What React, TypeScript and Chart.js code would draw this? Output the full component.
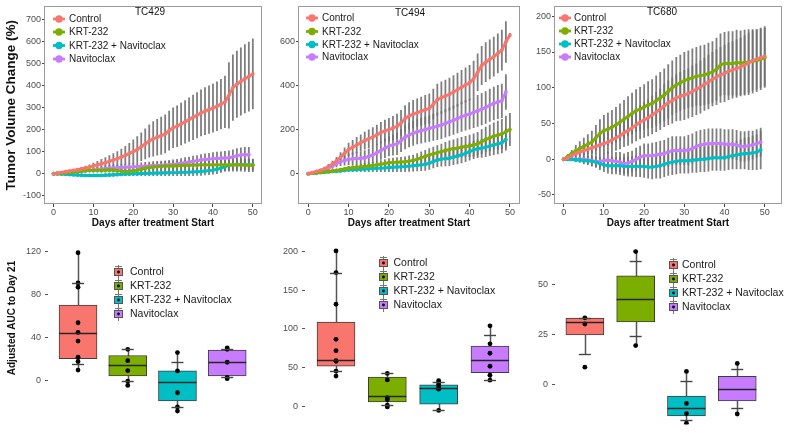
import React, { useEffect, useRef } from 'react';
import { Chart, registerables } from 'chart.js';

Chart.register(...registerables);

const FONT = "'Liberation Sans', Arial, Helvetica, sans-serif";
Chart.defaults.font.family = FONT;
Chart.defaults.color = '#4d4d4d';

// ---------- shared ----------
const groups = ['Control', 'KRT-232', 'KRT-232 + Navitoclax', 'Navitoclax'];
const groupColors = ['#F8766D', '#7CAE00', '#00BFC4', '#C77CFF'];
const days = [0, 1, 2, 3, 4, 5, 6, 7, 8, 9, 10, 11, 12, 13, 14, 15, 16, 17, 18, 19, 20, 21, 22, 23, 24, 25, 26, 27, 28, 29, 30, 31, 32, 33, 34, 35, 36, 37, 38, 39, 40, 41, 42, 43, 44, 45, 46, 47, 48, 49, 50];
const dayTicks = [0, 10, 20, 30, 40, 50];

// ---------- TC429 (tumor volume change %) ----------
const tc429Control = [0, 3, 6, 9, 12, 15, 18, 22, 26, 30, 35, 40, 45, 50, 56, 62, 68, 75, 83, 92, 100, 110, 122, 135, 148, 158, 165, 172, 180, 195, 208, 215, 225, 235, 245, 255, 265, 275, 283, 290, 297, 305, 315, 325, 355, 390, 405, 418, 430, 440, 452];
const tc429ControlSd = [0, 1, 2, 3, 4, 5, 6, 8, 10, 12, 15, 18, 21, 24, 27, 30, 34, 38, 42, 47, 55, 60, 65, 70, 75, 80, 83, 86, 88, 90, 92, 94, 96, 98, 100, 102, 104, 106, 108, 109, 110, 112, 114, 118, 150, 150, 152, 154, 156, 158, 160];
const tc429Krt = [0, 1, 2, 4, 6, 8, 10, 12, 14, 15, 15, 15, 15, 16, 17, 16, 14, 12, 10, 11, 13, 16, 20, 25, 28, 30, 32, 33, 34, 35, 35, 36, 37, 38, 38, 39, 39, 40, 40, 40, 40, 40, 40, 40, 40, 40, 40, 40, 39, 38, 38];
const tc429KrtSd = [0, 1, 2, 3, 4, 5, 6, 7, 8, 9, 10, 10, 11, 11, 12, 12, 13, 13, 14, 14, 15, 15, 16, 17, 18, 19, 20, 21, 22, 22, 23, 23, 24, 24, 25, 25, 26, 26, 27, 27, 28, 28, 29, 29, 30, 30, 30, 30, 30, 30, 30];
const tc429Combo = [0, -1, -2, -3, -4, -5, -6, -7, -8, -8, -8, -8, -8, -7, -6, -5, -4, -3, -2, -1, 0, 0, 1, 1, 2, 2, 3, 3, 4, 4, 5, 5, 6, 6, 7, 8, 9, 10, 12, 14, 16, 20, 25, 32, 38, 40, 40, 41, 40, 40, 40];
const tc429ComboSd = [0, 1, 1, 2, 2, 3, 3, 4, 4, 5, 5, 6, 6, 7, 7, 8, 8, 9, 9, 10, 10, 11, 11, 12, 12, 13, 13, 14, 14, 15, 15, 16, 16, 17, 17, 18, 18, 19, 19, 20, 20, 21, 21, 22, 22, 23, 23, 24, 24, 25, 25];
const tc429Nav = [0, 1, 2, 3, 5, 7, 9, 11, 13, 15, 17, 19, 21, 23, 25, 26, 27, 28, 29, 30, 31, 32, 33, 34, 35, 36, 37, 38, 39, 40, 42, 44, 47, 50, 53, 56, 59, 62, 64, 66, 68, 69, 70, 71, 72, 76, 81, 85, 86, 86, null];
const tc429NavSd = [0, 1, 2, 3, 4, 5, 6, 7, 8, 9, 10, 11, 12, 13, 14, 15, 15, 16, 16, 17, 17, 18, 18, 19, 19, 20, 20, 21, 21, 22, 22, 23, 23, 24, 24, 25, 25, 26, 27, 28, 29, 30, 31, 32, 33, 33, 34, 34, 35, 35, null];
const tc429YTicks = [-100, 0, 100, 200, 300, 400, 500, 600, 700];

// ---------- TC494 ----------
const tc494Control = [0, 5, 10, 15, 22, 32, 44, 58, 75, 92, 110, 120, 130, 140, 150, 158, 166, 176, 186, 194, 200, 207, 215, 230, 250, 262, 270, 276, 283, 290, 295, 315, 335, 345, 352, 360, 370, 380, 392, 402, 412, 430, 460, 490, 505, 518, 530, 545, 560, 597, 628];
const tc494ControlSd = [0, 3, 5, 7, 9, 12, 15, 18, 22, 26, 30, 33, 36, 38, 40, 42, 44, 46, 48, 50, 52, 54, 56, 58, 60, 62, 64, 65, 66, 67, 68, 70, 72, 73, 74, 75, 76, 77, 78, 79, 80, 82, 85, 88, 90, 90, 90, 90, 92, 94, 10];
const tc494Krt = [0, 2, 4, 6, 8, 10, 12, 15, 18, 21, 25, 27, 29, 31, 33, 35, 37, 40, 43, 46, 50, 51, 52, 53, 54, 57, 60, 65, 72, 78, 85, 90, 95, 100, 105, 110, 113, 116, 120, 123, 126, 130, 135, 145, 155, 162, 170, 175, 180, 190, 200];
const tc494KrtSd = [0, 1, 2, 3, 4, 5, 6, 7, 8, 9, 10, 11, 12, 13, 14, 15, 16, 17, 18, 19, 20, 21, 22, 23, 24, 25, 26, 27, 28, 29, 30, 32, 34, 36, 38, 40, 42, 44, 46, 48, 50, 52, 54, 56, 58, 60, 62, 65, 68, 72, 75];
const tc494Combo = [0, 2, 3, 5, 6, 8, 10, 11, 13, 15, 17, 18, 19, 20, 21, 22, 23, 24, 25, 26, 28, 29, 30, 31, 32, 34, 36, 38, 40, 42, 48, 55, 62, 66, 68, 70, 75, 80, 85, 92, 100, 108, 113, 115, 120, 125, 130, 135, 140, 155, null];
const tc494ComboSd = [0, 1, 2, 3, 4, 5, 6, 7, 8, 9, 10, 11, 12, 13, 14, 15, 16, 17, 18, 19, 20, 21, 22, 23, 24, 25, 26, 27, 28, 29, 30, 31, 32, 33, 34, 35, 36, 37, 38, 39, 40, 41, 42, 43, 44, 45, 46, 47, 48, 50, null];
const tc494Nav = [0, 4, 8, 12, 16, 25, 35, 45, 55, 60, 65, 67, 69, 70, 72, 78, 85, 95, 105, 115, 125, 130, 135, 150, 165, 175, 183, 190, 195, 200, 205, 210, 215, 220, 228, 235, 242, 250, 258, 265, 270, 278, 285, 292, 300, 310, 318, 325, 330, 370, null];
const tc494NavSd = [0, 2, 4, 6, 8, 10, 13, 16, 20, 23, 26, 28, 30, 32, 34, 36, 38, 40, 42, 44, 46, 48, 50, 52, 54, 55, 56, 57, 58, 59, 60, 61, 62, 63, 64, 65, 66, 67, 68, 69, 70, 71, 72, 73, 74, 75, 76, 77, 78, 80, null];
const tc494YTicks = [0, 200, 400, 600];

// ---------- TC680 ----------
const tc680Control = [0, 2, 5, 8, 10, 12, 14, 16, 18, 20, 22, 24, 27, 30, 33, 37, 40, 44, 48, 52, 55, 58, 62, 66, 70, 75, 79, 82, 86, 88, 90, 92, 95, 98, 101, 105, 108, 112, 115, 118, 120, 123, 125, 127, 129, 132, 135, 138, 140, 142, 144];
const tc680ControlSd = [0, 2, 4, 6, 8, 10, 11, 12, 13, 14, 15, 16, 17, 18, 19, 20, 21, 22, 23, 24, 25, 26, 27, 28, 29, 30, 31, 32, 33, 34, 35, 35, 36, 36, 37, 37, 38, 38, 39, 39, 40, 40, 40, 41, 41, 41, 42, 42, 42, 42, 42];
const tc680Krt = [0, 4, 8, 12, 15, 18, 21, 24, 30, 36, 40, 42, 45, 48, 52, 56, 60, 64, 68, 70, 73, 76, 78, 82, 86, 90, 95, 100, 104, 107, 110, 112, 114, 116, 117, 118, 120, 122, 126, 132, 134, 134, 134, 135, 135, 135, 136, 137, 138, 140, 142];
const tc680KrtSd = [0, 3, 5, 8, 10, 12, 14, 16, 18, 20, 22, 23, 24, 25, 26, 27, 28, 29, 30, 31, 32, 33, 34, 35, 36, 37, 38, 38, 39, 39, 40, 40, 41, 41, 42, 42, 43, 43, 44, 44, 44, 45, 45, 46, 45, 46, 46, 45, 44, 43, 42];
const tc680Combo = [0, 0, 0, -1, -1, -2, -2, -3, -4, -6, -8, -9, -9, -9, -9, -10, -10, -10, -10, -10, -10, -11, -11, -10, -9, -7, -5, -4, -3, -2, -2, -2, -1, -1, 0, 0, 1, 2, 2, 2, 2, 4, 5, 6, 7, 8, 8, 9, 10, 13, null];
const tc680ComboSd = [0, 1, 2, 3, 4, 5, 6, 7, 8, 9, 10, 11, 12, 12, 13, 13, 14, 14, 15, 15, 16, 16, 17, 17, 18, 18, 18, 18, 18, 18, 18, 18, 18, 18, 18, 18, 18, 18, 18, 18, 18, 19, 19, 20, 21, 22, 23, 24, 25, 27, null];
const tc680Nav = [0, 0, 0, 0, 0, 0, -1, -2, -3, -3, -2, -1, -2, -3, -4, -6, -5, -3, 0, 3, 5, 5, 5, 6, 7, 8, 10, 12, 12, 12, 12, 13, 15, 18, 20, 21, 22, 22, 22, 22, 21, 21, 21, 20, 18, 18, 19, 20, 22, 24, null];
const tc680NavSd = [0, 1, 2, 3, 4, 5, 6, 7, 8, 9, 10, 11, 12, 13, 14, 14, 15, 15, 16, 16, 17, 17, 18, 18, 19, 19, 20, 20, 20, 20, 20, 21, 21, 21, 21, 21, 21, 21, 21, 21, 21, 21, 21, 21, 21, 21, 21, 20, 20, 20, null];
const tc680YTicks = [-50, 0, 50, 100, 150, 200];

// ---------- Adjusted AUC to Day 21 (box plots) ----------
const auc429Q1 = [20.6, 4.5, -18.5, 4.5];
const auc429Median = [44.8, 15.2, -1.2, 17.3];
const auc429Q3 = [70.4, 23.6, 9.3, 28.7];
const auc429Low = [10, -4.2, -28, 2.1];
const auc429High = [119, 29.3, 26.3, 30.7];
const auc429Caps = [[91, 15.8], [29.3, -0.3], [17.6, -24.2], [30, 3.5]];
const auc429Points = [[119, 91, 87, 54, 45, 37, 22, 18, 10], [29.3, 18.8, 9.6, -0.3, -4.2], [26.3, 9.3, -11, -24.2, -28], [30.7, 29.3, 17.3, 3.3, 2.1]];
const auc429YTicks = [0, 40, 80, 120];

const auc494Q1 = [51.7, 5.5, 2.5, 43.3];
const auc494Median = [60, 12.6, 23, 60];
const auc494Q3 = [109, 37.8, 27.7, 77.7];
const auc494Low = [39, -1, -5.5, 33.6];
const auc494High = [201, 42.4, 33, 104];
const auc494Caps = [[173, 45.4], [42.4, 1.3], [31, -5.5], [92.4, 33.6]];
const auc494Points = [[201, 173, 132, 86.6, 71.8, 59, 58, 45.4, 39], [42.4, 34, 11, 8.4, 1.3, -1], [33, 31, 28, 25, 22, -5.5], [104, 80.7, 68.5, 51.7, 40, 33.6]];
const auc494YTicks = [0, 50, 100, 150, 200];

const auc680Q1 = [25, 31.5, -15.6, -8.1];
const auc680Median = [31.6, 43, -11.7, -1.9];
const auc680Q3 = [33.4, 54.5, -5.7, 4.2];
const auc680Low = [15.3, 19.6, -19.2, -14.6];
const auc680High = [33.5, 66.6, 6.7, 10.7];
const auc680Caps = [[33.5, 15.3], [61.9, 24.5], [1.8, -17.5], [8.1, -11.7]];
const auc680Points = [[33.5, 30.4, 8.8], [66.6, 19.6], [6.7, -9.3, -14.4, -19.2], [10.7, -14.6]];
const auc680YTicks = [0, 25, 50];

// ---------- plugins ----------
const errorBarsPlugin: any = {
  id: 'errorBars',
  beforeDatasetsDraw(chart: any) {
    const { ctx, chartArea: a, scales } = chart;
    ctx.save();
    ctx.beginPath();
    ctx.rect(a.left, a.top, a.right - a.left, a.bottom - a.top);
    ctx.clip();
    ctx.strokeStyle = 'rgba(112,112,112,0.9)';
    ctx.lineWidth = 1.8;
    chart.data.datasets.forEach((ds: any) => {
      const sd = ds.sd;
      if (!sd) return;
      ds.data.forEach((p: any, i: number) => {
        if (p.y == null || sd[i] == null || sd[i] === 0) return;
        const x = scales.x.getPixelForValue(p.x);
        ctx.beginPath();
        ctx.moveTo(x, scales.y.getPixelForValue(p.y - sd[i]));
        ctx.lineTo(x, scales.y.getPixelForValue(p.y + sd[i]));
        ctx.stroke();
      });
    });
    ctx.restore();
  },
};

const framePlugin: any = {
  id: 'frame',
  afterDraw(chart: any) {
    const { ctx, chartArea: a } = chart;
    ctx.save();
    ctx.strokeStyle = '#9a9a9a';
    ctx.lineWidth = 1;
    ctx.strokeRect(Math.round(a.left) + 0.5, Math.round(a.top) + 0.5, Math.round(a.right - a.left) - 1, Math.round(a.bottom - a.top) - 1);
    ctx.restore();
  },
};

const lineDecoPlugin: any = {
  id: 'lineDeco',
  afterDraw(chart: any, _args: any, o: any) {
    const { ctx } = chart;
    ctx.save();
    ctx.fillStyle = '#111';
    ctx.font = `10px ${FONT}`;
    ctx.textAlign = 'center';
    ctx.textBaseline = 'middle';
    ctx.fillText(o.title, o.titleX, o.titleY);
    ctx.textAlign = 'left';
    o.rows.forEach((ry: number, i: number) => {
      ctx.strokeStyle = groupColors[i];
      ctx.lineWidth = 2.8;
      ctx.beginPath();
      ctx.moveTo(o.keyX - 6, ry);
      ctx.lineTo(o.keyX + 6, ry);
      ctx.stroke();
      ctx.fillStyle = groupColors[i];
      ctx.beginPath();
      ctx.arc(o.keyX, ry, 3.7, 0, Math.PI * 2);
      ctx.fill();
      ctx.fillStyle = '#1a1a1a';
      ctx.fillText(groups[i], o.textX, ry + 0.5);
    });
    ctx.restore();
  },
};

const boxDecoPlugin: any = {
  id: 'boxDeco',
  beforeDatasetsDraw(chart: any, _args: any, o: any) {
    const { ctx, scales } = chart;
    ctx.save();
    ctx.strokeStyle = '#555';
    ctx.lineWidth = 1.5;
    o.low.forEach((lo: number, i: number) => {
      const x = Math.round(scales.x.getPixelForValue(i + 1)) + 0.5;
      ctx.beginPath();
      ctx.moveTo(x, scales.y.getPixelForValue(lo));
      ctx.lineTo(x, scales.y.getPixelForValue(o.high[i]));
      ctx.stroke();
    });
    ctx.restore();
  },
  afterDatasetsDraw(chart: any, _args: any, o: any) {
    const { ctx, scales } = chart;
    ctx.save();
    ctx.strokeStyle = '#262626';
    ctx.lineWidth = 1.6;
    o.median.forEach((m: number, i: number) => {
      const x = scales.x.getPixelForValue(i + 1);
      const y = Math.round(scales.y.getPixelForValue(m)) + 0.5;
      ctx.beginPath();
      ctx.moveTo(x - o.half, y);
      ctx.lineTo(x + o.half, y);
      ctx.stroke();
    });
    ctx.strokeStyle = '#444';
    ctx.lineWidth = 1.4;
    o.caps.forEach((list: number[], i: number) => {
      const x = scales.x.getPixelForValue(i + 1);
      list.forEach((c) => {
        const y = Math.round(scales.y.getPixelForValue(c)) + 0.5;
        ctx.beginPath();
        ctx.moveTo(x - 6, y);
        ctx.lineTo(x + 6, y);
        ctx.stroke();
      });
    });
    ctx.restore();
  },
  afterDraw(chart: any, _args: any, o: any) {
    const { ctx } = chart;
    ctx.save();
    ctx.font = `10.5px ${FONT}`;
    ctx.textBaseline = 'middle';
    ctx.textAlign = 'left';
    o.rows.forEach((ry: number, i: number) => {
      const cx = o.keyX;
      ctx.strokeStyle = '#777';
      ctx.lineWidth = 1;
      ctx.beginPath();
      ctx.moveTo(cx + 0.5, ry - 7);
      ctx.lineTo(cx + 0.5, ry + 7);
      ctx.moveTo(cx - 3, ry - 5.5);
      ctx.lineTo(cx + 4, ry - 5.5);
      ctx.stroke();
      ctx.fillStyle = groupColors[i];
      ctx.fillRect(cx - 4, ry - 4, 9, 8);
      ctx.strokeStyle = '#555';
      ctx.strokeRect(cx - 3.5, ry - 3.5, 8, 7);
      ctx.fillStyle = '#000';
      ctx.beginPath();
      ctx.arc(cx + 0.5, ry, 1.4, 0, Math.PI * 2);
      ctx.fill();
      ctx.fillStyle = '#1a1a1a';
      ctx.fillText(groups[i], o.textX, ry + 0.5);
    });
    if (o.yTitle) {
      ctx.translate(o.yTitleX, o.yTitleY);
      ctx.rotate(-Math.PI / 2);
      ctx.textAlign = 'center';
      ctx.font = `bold 10px ${FONT}`;
      ctx.fillStyle = '#111';
      ctx.fillText(o.yTitle, 0, 0);
    }
    ctx.restore();
  },
};

// ---------- config builders ----------
function makeLineConfig(s: any) {
  const series = [s.control, s.krt, s.combo, s.nav];
  const sds = [s.controlSd, s.krtSd, s.comboSd, s.navSd];
  return {
    type: 'line',
    data: {
      datasets: series.map((vals: any[], i: number) => ({
        label: groups[i],
        data: days.map((d, k) => ({ x: d, y: vals[k] })),
        sd: sds[i],
        borderColor: groupColors[i],
        backgroundColor: groupColors[i],
        borderWidth: 2.9,
        pointRadius: 1.9,
        pointBorderWidth: 0,
        tension: 0,
        spanGaps: false,
      })),
    },
    options: {
      responsive: false,
      animation: false,
      events: [],
      layout: { padding: { left: 0, top: s.areaTop, right: s.width - s.areaRight, bottom: 0 } },
      plugins: {
        legend: { display: false },
        tooltip: { enabled: false },
        lineDeco: { title: s.title, titleX: s.titleX, titleY: s.titleY, keyX: s.keyX, textX: s.textX, rows: s.rows },
      },
      scales: {
        x: {
          type: 'linear',
          min: s.xMin,
          max: s.xMax,
          afterFit: (sc: any) => { sc.height = s.height - s.areaBottom; },
          afterBuildTicks: (sc: any) => { sc.ticks = dayTicks.map((v) => ({ value: v })); },
          ticks: { font: { size: 9 }, color: '#4d4d4d', padding: 0, maxRotation: 0, autoSkip: false },
          grid: { display: true, drawOnChartArea: false, drawTicks: true, tickLength: 3, color: '#444' },
          border: { display: false },
          title: { display: true, text: 'Days after treatment Start', color: '#111', font: { size: 10, weight: 'bold' }, padding: { top: 0, bottom: 3 } },
        },
        y: {
          type: 'linear',
          min: s.yMin,
          max: s.yMax,
          afterFit: (sc: any) => { sc.width = s.areaLeft; },
          afterBuildTicks: (sc: any) => { sc.ticks = s.yTicks.map((v: number) => ({ value: v })); },
          ticks: { font: { size: 9 }, color: '#4d4d4d', padding: 1, autoSkip: false },
          grid: { display: true, drawOnChartArea: false, drawTicks: true, tickLength: 2, color: '#444' },
          border: { display: false },
          title: { display: !!s.yTitle, text: s.yTitle || '', color: '#111', font: { size: 13.5, weight: 'bold' }, padding: { top: 3, bottom: 0 } },
        },
      },
    },
    plugins: [errorBarsPlugin, framePlugin, lineDecoPlugin],
  };
}

function makeBoxConfig(s: any) {
  const pts: any[] = [];
  s.points.forEach((list: number[], i: number) => list.forEach((v) => pts.push({ x: i + 1, y: v })));
  return {
    type: 'bar',
    data: {
      datasets: [
        {
          type: 'scatter',
          data: pts,
          pointRadius: 2.4,
          pointBorderWidth: 0,
          backgroundColor: '#000',
          borderColor: '#000',
          order: 0,
        },
        {
          type: 'bar',
          data: groups.map((_g, i) => ({ x: i + 1, y: [s.q1[i], s.q3[i]] })),
          backgroundColor: groupColors,
          borderColor: '#3d3d3d',
          borderWidth: 1,
          borderSkipped: false,
          barThickness: 38,
          order: 1,
        },
      ],
    },
    options: {
      responsive: false,
      animation: false,
      events: [],
      layout: { padding: { left: 0, top: s.areaTop, right: s.width - s.areaRight, bottom: s.height - s.areaBottom } },
      plugins: {
        legend: { display: false },
        tooltip: { enabled: false },
        boxDeco: {
          low: s.low, high: s.high, median: s.median, caps: s.caps, half: 19,
          rows: s.rows, keyX: s.keyX, textX: s.textX,
          yTitle: s.yTitle, yTitleX: s.yTitleX, yTitleY: s.yTitleY,
        },
      },
      scales: {
        x: { type: 'linear', display: false, min: s.xMin, max: s.xMax, offset: false },
        y: {
          type: 'linear',
          min: s.yMin,
          max: s.yMax,
          afterFit: (sc: any) => { sc.width = s.areaLeft; },
          afterBuildTicks: (sc: any) => { sc.ticks = s.yTicks.map((v: number) => ({ value: v })); },
          ticks: { font: { size: 9 }, color: '#4d4d4d', padding: 4, autoSkip: false },
          grid: { display: true, drawOnChartArea: false, drawTicks: true, tickLength: 3, color: '#555' },
          border: { display: false },
        },
      },
    },
    plugins: [boxDecoPlugin],
  };
}

// ---------- panel specs ----------
const topH = 232;
const linePanels = [
  {
    left: 0, width: 266, height: topH, areaLeft: 44, areaRight: 263, areaTop: 2, areaBottom: 204,
    xMin: -2.4, xMax: 52.3, yMin: -137.3, yMax: 757.6, yTicks: tc429YTicks,
    control: tc429Control, controlSd: tc429ControlSd, krt: tc429Krt, krtSd: tc429KrtSd,
    combo: tc429Combo, comboSd: tc429ComboSd, nav: tc429Nav, navSd: tc429NavSd,
    title: 'TC429', titleX: 150, titleY: 12, keyX: 59, textX: 69, rows: [19, 32, 45.5, 59],
    yTitle: 'Tumor Volume Change (%)',
  },
  {
    left: 266, width: 259, height: topH, areaLeft: 32, areaRight: 254, areaTop: 2, areaBottom: 204,
    xMin: -2.55, xMax: 52.5, yMin: -137.5, yMax: 758, yTicks: tc494YTicks,
    control: tc494Control, controlSd: tc494ControlSd, krt: tc494Krt, krtSd: tc494KrtSd,
    combo: tc494Combo, comboSd: tc494ComboSd, nav: tc494Nav, navSd: tc494NavSd,
    title: 'TC494', titleX: 144, titleY: 13, keyX: 46, textX: 56, rows: [18, 31.5, 44.5, 57],
  },
  {
    left: 525, width: 264, height: topH, areaLeft: 29, areaRight: 257, areaTop: 4, areaBottom: 204,
    xMin: -2.42, xMax: 54.3, yMin: -62.6, yMax: 213.8, yTicks: tc680YTicks,
    control: tc680Control, controlSd: tc680ControlSd, krt: tc680Krt, krtSd: tc680KrtSd,
    combo: tc680Combo, comboSd: tc680ComboSd, nav: tc680Nav, navSd: tc680NavSd,
    title: 'TC680', titleX: 137, titleY: 12, keyX: 40, textX: 49, rows: [18, 31, 44, 57],
  },
];

const botTop = 232;
const botH = 202;
const boxPanels = [
  {
    left: 0, width: 266, height: botH, areaLeft: 48, areaRight: 260, areaTop: 10, areaBottom: 198,
    xMin: 0.396, xMax: 4.66, yMin: -40.6, yMax: 129, yTicks: auc429YTicks,
    q1: auc429Q1, median: auc429Median, q3: auc429Q3, low: auc429Low, high: auc429High, caps: auc429Caps, points: auc429Points,
    keyX: 118, textX: 130, rows: [40, 54, 68, 82],
    yTitle: 'Adjusted AUC to Day 21', yTitleX: 12, yTitleY: 86,
  },
  {
    left: 266, width: 259, height: botH, areaLeft: 39, areaRight: 254, areaTop: 10, areaBottom: 198,
    xMin: 0.396, xMax: 4.585, yMin: -23.9, yMax: 212.6, yTicks: auc494YTicks,
    q1: auc494Q1, median: auc494Median, q3: auc494Q3, low: auc494Low, high: auc494High, caps: auc494Caps, points: auc494Points,
    keyX: 117, textX: 127.5, rows: [31, 45, 59, 73],
  },
  {
    left: 525, width: 264, height: botH, areaLeft: 30, areaRight: 261, areaTop: 10, areaBottom: 198,
    xMin: 0.412, xMax: 4.94, yMin: -19.9, yMax: 71.4, yTicks: auc680YTicks,
    q1: auc680Q1, median: auc680Median, q3: auc680Q3, low: auc680Low, high: auc680High, caps: auc680Caps, points: auc680Points,
    keyX: 148, textX: 157, rows: [33, 47, 61, 75],
  },
];

function ChartCanvas({ left, top, width, height, make }: any) {
  const ref = useRef<HTMLCanvasElement>(null);
  useEffect(() => {
    const chart = new Chart(ref.current as HTMLCanvasElement, make() as any);
    return () => chart.destroy();
  }, []);
  return (
    <canvas
      ref={ref}
      width={width}
      height={height}
      style={{ position: 'absolute', left, top, width, height, display: 'block' }}
    />
  );
}

export default function App() {
  return (
    <div style={{ position: 'absolute', left: 0, top: 0, width: 789, height: 434, background: '#fff', overflow: 'hidden' }}>
      {linePanels.map((p, i) => (
        <ChartCanvas key={'l' + i} left={p.left} top={0} width={p.width} height={p.height} make={() => makeLineConfig(p)} />
      ))}
      {boxPanels.map((p, i) => (
        <ChartCanvas key={'b' + i} left={p.left} top={botTop} width={p.width} height={p.height} make={() => makeBoxConfig(p)} />
      ))}
    </div>
  );
}
